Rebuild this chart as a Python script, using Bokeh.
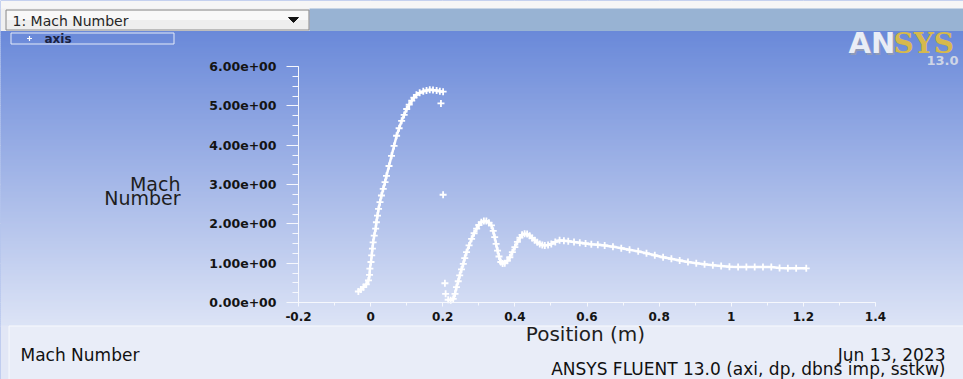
import numpy as np
from bokeh.plotting import figure
from bokeh.models import Range1d, LinearAxis, FixedTicker, CustomJSTickFormatter
from bokeh.core.properties import value
from bokeh.embed import file_html
from bokeh.resources import INLINE

# ---- data: Mach number along the axis -------------------------------------
# nozzle expansion
nozzle_x = [-0.034, -0.027, -0.020, -0.012, -0.006, -0.003, -0.002, 0.001, 0.003,
            0.005, 0.007, 0.010, 0.014, 0.016, 0.019, 0.022, 0.026, 0.030, 0.035,
            0.040, 0.044, 0.051, 0.058, 0.065, 0.072, 0.079, 0.086, 0.093, 0.100,
            0.107, 0.114, 0.120, 0.127, 0.136, 0.146, 0.155, 0.164, 0.173, 0.183,
            0.192, 0.201]
nozzle_mach = [0.28, 0.33, 0.39, 0.46, 0.56, 0.70, 0.86, 1.03, 1.20,
               1.37, 1.53, 1.70, 1.88, 2.04, 2.21, 2.38, 2.55, 2.72, 2.89,
               3.06, 3.22, 3.47, 3.73, 3.98, 4.24, 4.43, 4.62, 4.77, 4.92,
               5.03, 5.13, 5.21, 5.28, 5.33, 5.37, 5.39, 5.41, 5.40, 5.39,
               5.37, 5.36]

# isolated samples at the nozzle exit plane
exit_x = [0.195, 0.201, 0.206, 0.208]
exit_mach = [5.06, 2.74, 0.49, 0.22]

# plume downstream of the exit
plume_x = [0.215, 0.222, 0.229, 0.234, 0.238, 0.243, 0.247, 0.252, 0.257, 0.261,
           0.266, 0.273, 0.280, 0.287, 0.294, 0.300, 0.307, 0.314, 0.321, 0.328,
           0.335, 0.340, 0.344, 0.348, 0.352, 0.356, 0.361, 0.366, 0.372, 0.379,
           0.386, 0.393, 0.400, 0.407, 0.414, 0.420, 0.427, 0.434, 0.441, 0.448,
           0.455, 0.462, 0.469, 0.476, 0.483, 0.492, 0.501, 0.512, 0.524, 0.536,
           0.548, 0.564, 0.580, 0.596, 0.612, 0.630, 0.649, 0.672, 0.695, 0.718,
           0.742, 0.765, 0.788, 0.811, 0.834, 0.857, 0.880, 0.903, 0.926, 0.949,
           0.972, 0.995, 1.019, 1.042, 1.065, 1.088, 1.111, 1.134, 1.157, 1.180,
           1.208]
plume_mach = [0.07, 0.06, 0.09, 0.22, 0.39, 0.54, 0.69, 0.84, 0.98, 1.13,
              1.28, 1.45, 1.62, 1.76, 1.88, 1.97, 2.04, 2.07, 2.07, 2.03,
              1.96, 1.82, 1.66, 1.49, 1.32, 1.17, 1.03, 0.99, 1.00, 1.06,
              1.15, 1.28, 1.41, 1.54, 1.65, 1.72, 1.75, 1.74, 1.70, 1.64,
              1.58, 1.53, 1.49, 1.46, 1.45, 1.46, 1.49, 1.54, 1.58, 1.57,
              1.56, 1.54, 1.52, 1.50, 1.48, 1.47, 1.45, 1.42, 1.38, 1.34,
              1.30, 1.25, 1.20, 1.15, 1.11, 1.07, 1.03, 1.00, 0.97, 0.95,
              0.93, 0.91, 0.90, 0.90, 0.90, 0.90, 0.90, 0.88, 0.87, 0.87,
              0.87]

# axis ticks and their labels
x_ticks = [-0.2, 0.0, 0.2, 0.4, 0.6, 0.8, 1.0, 1.2, 1.4]
x_tick_labels = ["-0.2", "0", "0.2", "0.4", "0.6", "0.8", "1", "1.2", "1.4"]
y_ticks = [0, 1, 2, 3, 4, 5, 6]
y_tick_labels = ["0.00e+00", "1.00e+00", "2.00e+00", "3.00e+00",
                 "4.00e+00", "5.00e+00", "6.00e+00"]

# ---- canvas layout ---------------------------------------------------------
W, H = 963, 379
X0_PX, X1_PX = 298, 875      # pixel columns of x = -0.2 and x = 1.4
Y0_PX, Y1_PX = 302, 66       # pixel rows of y = 0 and y = 6
x_lo, x_hi, y_lo, y_hi = -0.2, 1.4, 0.0, 6.0
sx = (X1_PX - X0_PX) / (x_hi - x_lo)
sy = (Y0_PX - Y1_PX) / (y_hi - y_lo)

p = figure(width=W, height=H,
           x_range=Range1d(x_lo - X0_PX / sx, x_hi + (W - X1_PX) / sx),
           y_range=Range1d(y_lo - (H - Y0_PX) / sy, y_hi + Y1_PX / sy),
           min_border=0, toolbar_location=None, output_backend="svg",
           x_axis_location=None, y_axis_location=None)
p.outline_line_color = None
p.background_fill_color = "#6b8ad9"
p.border_fill_color = "#6b8ad9"
# pixel-space ranges for the window decorations
p.extra_x_ranges = {"px": Range1d(0, W)}
p.extra_y_ranges = {"px": Range1d(H, 0)}
PX = dict(x_range_name="px", y_range_name="px")

# graphics-window gradient
g_top, g_bot = 30, 326
rows = np.arange(g_top, g_bot, 2)
t = (rows - g_top) / (g_bot - g_top)
c_top = np.array([106, 137, 217])
c_bot = np.array([221, 228, 246])
grad = ["#%02x%02x%02x" % tuple(int(round(v)) for v in c_top + (c_bot - c_top) * ti) for ti in t]
p.quad(left=0, right=W, top=rows, bottom=rows + 2.6, fill_color=grad,
       line_color=None, **PX)

# header: blank strip, selector box and title bar
p.quad(left=0, right=W, top=0, bottom=8.5, fill_color="#f6f6f6", line_color=None, **PX)
p.quad(left=309, right=W, top=8, bottom=30.5, fill_color="#98b3d3", line_color=None, **PX)
p.quad(left=0, right=309, top=8, bottom=30.5, fill_color="#f0f0f0", line_color=None, **PX)
p.quad(left=5.5, right=308.5, top=9.5, bottom=29.5, fill_color="#eeeeee",
       line_color="#8a8a8a", line_width=1, **PX)
p.quad(left=6.5, right=307.5, top=10.5, bottom=19.5, fill_color="#f8f8f8",
       line_color=None, **PX)
p.text(x=[12], y=[20], text=["1: Mach Number"], text_font=value("DejaVu Sans"),
       text_font_size="14px", text_color="#262626", text_baseline="middle", **PX)
p.patch(x=[288, 298, 293], y=[17, 17, 22], fill_color="#111111", line_color="#111111", **PX)

# legend entry
p.quad(left=10.5, right=173.5, top=32.5, bottom=43.5, fill_color=None,
       line_color="#e4eaf8", line_width=1, **PX)
p.scatter(x=[29], y=[38], marker="cross", size=5, line_color="white", line_width=1.2, **PX)
p.text(x=[44], y=[38], text=["axis"], text_font=value("DejaVu Sans"),
       text_font_size="12px", text_font_style="bold", text_color="#1a2240",
       text_baseline="middle", **PX)

# ANSYS logo
p.text(x=[849.5], y=[44], text=["AN"], text_font=value("DejaVu Sans"),
       text_font_size="29px", text_font_style="bold", text_color="#8e9ab8",
       text_baseline="middle", **PX)
p.text(x=[848], y=[42.5], text=["AN"], text_font=value("DejaVu Sans"),
       text_font_size="29px", text_font_style="bold", text_color="#e9edf6",
       text_baseline="middle", **PX)
p.text(x=[893], y=[43], text=["SYS"], text_font=value("DejaVu Serif"),
       text_font_size="28px", text_font_style="bold", text_color="#d6b94c",
       text_baseline="middle", **PX)
p.text(x=[926], y=[60], text=["13.0"], text_font=value("DejaVu Sans"),
       text_font_size="13px", text_font_style="bold", text_color="#cfd6e6",
       text_baseline="middle", **PX)

# bottom caption panel
p.quad(left=0, right=W, top=325, bottom=H, fill_color="#e2e7f6", line_color=None, **PX)
p.quad(left=8.5, right=W + 2, top=325.5, bottom=H + 2, fill_color="#e9edf8",
       line_color="#f7f9fd", line_width=1, **PX)

# axis titles and captions
p.text(x=[180, 180], y=[183, 197], text=["Mach", "Number"], text_font=value("DejaVu Sans"),
       text_font_size="19px", text_color="#1e1e1e", text_align="right",
       text_baseline="middle", **PX)
p.text(x=[585], y=[333], text=["Position (m)"], text_font=value("DejaVu Sans"),
       text_font_size="20px", text_color="#1e1e1e", text_align="center",
       text_baseline="middle", **PX)
p.text(x=[20], y=[354], text=["Mach Number"], text_font=value("DejaVu Sans"),
       text_font_size="17px", text_color="#111111", text_baseline="middle", **PX)
p.text(x=[945, 945], y=[354, 368],
       text=["Jun 13, 2023", "ANSYS FLUENT 13.0 (axi, dp, dbns imp, sstkw)"],
       text_font=value("DejaVu Sans"), text_font_size="17px", text_color="#111111",
       text_align="right", text_baseline="middle", **PX)

# ---- axes ------------------------------------------------------------------
def label_formatter(positions, names):
    return CustomJSTickFormatter(args=dict(positions=positions, names=names), code="""
        const i = positions.findIndex((v) => Math.abs(v - tick) < 1e-9);
        return i >= 0 ? names[i] : "";
    """)

y_minor = [k * 0.25 for k in range(25)]
x_minor = [round(-0.2 + k * 0.1, 10) for k in range(17)]

yax = LinearAxis(fixed_location=x_lo, bounds=(y_lo, y_hi),
                 ticker=FixedTicker(ticks=y_ticks, minor_ticks=y_minor),
                 formatter=label_formatter(y_ticks, y_tick_labels))
xax = LinearAxis(fixed_location=y_lo, bounds=(x_lo, x_hi),
                 ticker=FixedTicker(ticks=x_ticks, minor_ticks=x_minor),
                 formatter=label_formatter(x_ticks, x_tick_labels))
for ax in (xax, yax):
    ax.axis_line_color = "#f6f8fd"
    ax.major_tick_line_color = "#f6f8fd"
    ax.minor_tick_line_color = "#f6f8fd"
    ax.major_tick_in = 0
    ax.minor_tick_in = 0
    ax.major_label_text_font = "DejaVu Sans"
    ax.major_label_text_font_style = "bold"
    ax.major_label_text_color = "#141414"
yax.major_label_text_font_size = "12.5px"
xax.major_label_text_font_size = "12px"
yax.major_tick_out = 12
yax.minor_tick_out = 6
yax.major_label_standoff = 10
xax.major_tick_out = 4
xax.minor_tick_out = 3
xax.major_label_standoff = 5
p.add_layout(yax, "left")
p.add_layout(xax, "below")

# ---- Mach number samples ---------------------------------------------------
for xs, ys in ((nozzle_x, nozzle_mach), (plume_x, plume_mach)):
    p.line(xs, ys, line_color="white", line_width=2.5)
    p.scatter(xs, ys, marker="cross", size=7, line_color="white", line_width=1.8)
p.scatter(exit_x, exit_mach, marker="cross", size=7, line_color="white", line_width=1.8)

open("out.html", "w").write(file_html(p, INLINE))
